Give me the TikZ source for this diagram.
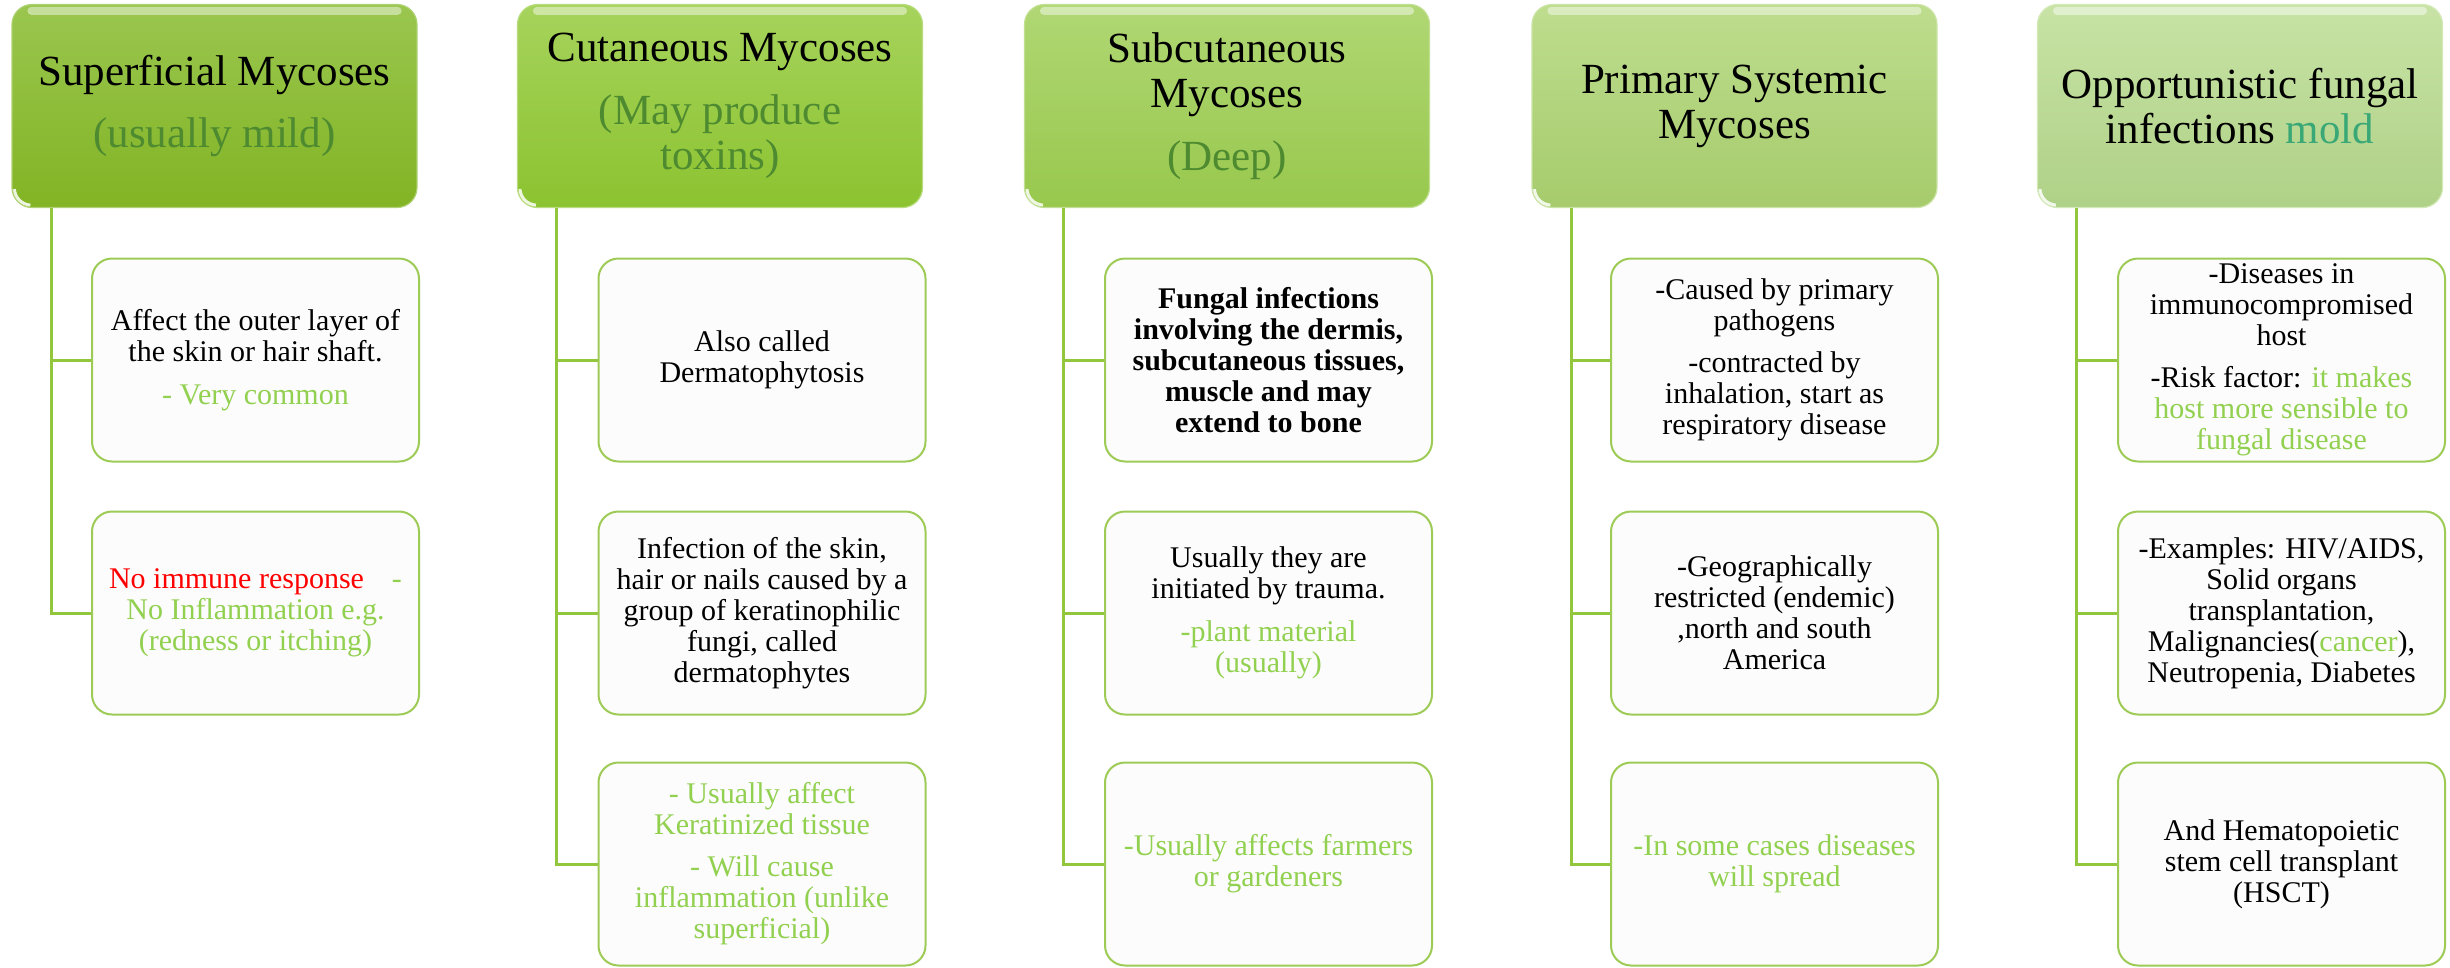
\documentclass[tikz,border=0pt]{standalone}
\usepackage{fontspec}
\setmainfont{Liberation Serif}
\usetikzlibrary{positioning}

\definecolor{hdAtop}{HTML}{9AC64F}
\definecolor{hdAbot}{HTML}{82B424}
\definecolor{hdBtop}{HTML}{A6D35C}
\definecolor{hdBbot}{HTML}{8CC330}
\definecolor{hdCtop}{HTML}{B0D774}
\definecolor{hdCbot}{HTML}{98C84D}
\definecolor{hdDtop}{HTML}{BEDD8E}
\definecolor{hdDbot}{HTML}{A6CB6C}
\definecolor{hdEtop}{HTML}{C8E3A5}
\definecolor{hdEbot}{HTML}{AFD187}
\definecolor{hdsub}{HTML}{4E8A30}
\definecolor{moldteal}{HTML}{3AA876}
\definecolor{txtgreen}{HTML}{92D050}
\definecolor{boxline}{HTML}{9DCB55}
\definecolor{boxfill}{HTML}{FCFCFC}
\definecolor{connline}{HTML}{92C63C}

\newcommand\hdfont{\fontsize{43}{45}\selectfont}
\newcommand\txtfont{\fontsize{30}{31}\selectfont}
% pale shine along the top of a header, glint in its lower left corner
\newcommand\headshine[1]{%
  \fill[white,opacity=.45,rounded corners=4pt] ([xshift=16pt,yshift=-3pt]#1.north west) rectangle ([xshift=-16pt,yshift=-11pt]#1.north east);
  \draw[white,opacity=.85,line width=3pt] ([xshift=3pt,yshift=19pt]#1.south west) to[bend right=40] ([xshift=19pt,yshift=3pt]#1.south west);}

\begin{document}
\begin{tikzpicture}[x=1pt,y=-1pt,
    headbox/.style={rectangle, rounded corners=20pt, minimum width=405pt, minimum height=203pt,
        inner sep=0pt, align=center, line width=1.2pt, top color=hd#1top, bottom color=hd#1bot,
        draw=hd#1top!80!white, font=\hdfont},
    childbox/.style={rectangle, rounded corners=20pt, minimum width=327pt, minimum height=203pt,
        inner sep=0pt, align=center, draw=boxline, line width=2pt, fill=boxfill, font=\txtfont},
    conn/.style={draw=connline, line width=3pt}]
    \path[use as bounding box, fill=white] (0,0) rectangle (2450,967);

    % headers
    \node[headbox=A] (sup) at (214.5,106) {Superficial Mycoses\\[17pt]\color{hdsub}(usually mild)};
    \node[headbox=B] (cut) at (720,106) {Cutaneous Mycoses\\[18pt]\color{hdsub}(May produce\\\color{hdsub}toxins)};
    \node[headbox=C] (sub) at (1227,106) {Subcutaneous\\Mycoses\\[18pt]\color{hdsub}(Deep)};
    \node[headbox=D] (sys) at (1734.5,106) {Primary Systemic\\Mycoses};
    \node[headbox=E] (opp) at (2240,106) {Opportunistic fungal\\infections {\color{moldteal}mold}};
    \headshine{sup} \headshine{cut} \headshine{sub} \headshine{sys} \headshine{opp}

    % superficial
    \node[childbox] (sup1) at (255.5,360) {Affect the outer layer of\\the skin or hair shaft.\\[12pt]\color{txtgreen}- Very common};
    \node[childbox] (sup2) at (255.5,613) {{\color{red}No immune response}\hspace{28pt}{\color{txtgreen}-}\\\color{txtgreen}No Inflammation e.g.\\\color{txtgreen}(redness or itching)};

    % cutaneous
    \node[childbox] (cut1) at (762,360) {Also called\\Dermatophytosis};
    \node[childbox] (cut2) at (762,613) {Infection of the skin,\\hair or nails caused by a\\group of keratinophilic\\fungi, called\\dermatophytes};
    \node[childbox] (cut3) at (762,864) {\color{txtgreen}- Usually affect\\\color{txtgreen}Keratinized tissue\\[11pt]\color{txtgreen}- Will cause\\\color{txtgreen}inflammation (unlike\\\color{txtgreen}superficial)};

    % subcutaneous
    \node[childbox, font=\txtfont\bfseries] (sub1) at (1268.5,360) {Fungal infections\\involving the dermis,\\subcutaneous tissues,\\muscle and may\\extend to bone};
    \node[childbox] (sub2) at (1268.5,613) {Usually they are\\initiated by trauma.\\[12pt]\color{txtgreen}-plant material\\\color{txtgreen}(usually)};
    \node[childbox] (sub3) at (1268.5,864) {\color{txtgreen}-Usually affects farmers\\\color{txtgreen}or gardeners};

    % primary systemic
    \node[childbox] (sys1) at (1774.5,360) {-Caused by primary\\pathogens\\[11pt]-contracted by\\inhalation, start as\\respiratory disease};
    \node[childbox] (sys2) at (1774.5,613) {-Geographically\\restricted (endemic)\\,north and south\\America};
    \node[childbox] (sys3) at (1774.5,864) {\color{txtgreen}-In some cases diseases\\\color{txtgreen}will spread};

    % opportunistic
    \node[childbox] (opp1) at (2281.5,360) {-Diseases in\\immunocompromised\\host\\[11pt]-Risk factor: {\color{txtgreen}it makes}\\\color{txtgreen}host more sensible to\\\color{txtgreen}fungal disease};
    \node[childbox] (opp2) at (2281.5,613) {-Examples: HIV/AIDS,\\Solid organs\\transplantation,\\Malignancies({\color{txtgreen}cancer}),\\Neutropenia, Diabetes};
    \node[childbox] (opp3) at (2281.5,864) {And Hematopoietic\\stem cell transplant\\(HSCT)};

    % tree lines
    \draw[conn] ([xshift=40pt]sup.south west) |- (sup1.west);
    \draw[conn] ([xshift=40pt]sup.south west) |- (sup2.west);
    \draw[conn] ([xshift=40pt]cut.south west) |- (cut1.west);
    \draw[conn] ([xshift=40pt]cut.south west) |- (cut2.west);
    \draw[conn] ([xshift=40pt]cut.south west) |- (cut3.west);
    \draw[conn] ([xshift=40pt]sub.south west) |- (sub1.west);
    \draw[conn] ([xshift=40pt]sub.south west) |- (sub2.west);
    \draw[conn] ([xshift=40pt]sub.south west) |- (sub3.west);
    \draw[conn] ([xshift=40pt]sys.south west) |- (sys1.west);
    \draw[conn] ([xshift=40pt]sys.south west) |- (sys2.west);
    \draw[conn] ([xshift=40pt]sys.south west) |- (sys3.west);
    \draw[conn] ([xshift=40pt]opp.south west) |- (opp1.west);
    \draw[conn] ([xshift=40pt]opp.south west) |- (opp2.west);
    \draw[conn] ([xshift=40pt]opp.south west) |- (opp3.west);
\end{tikzpicture}
\end{document}
